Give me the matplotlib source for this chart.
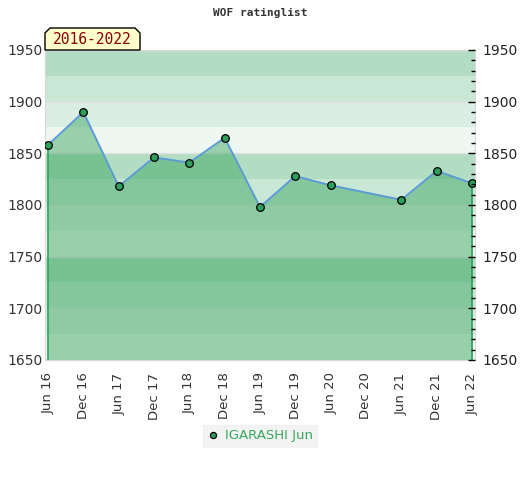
import numpy as np
import matplotlib
matplotlib.use("Agg")
import matplotlib.pyplot as plt
from matplotlib.patches import Polygon
from matplotlib.ticker import MultipleLocator

# half-year positions (Jun 16 = 0 ... Jun 22 = 12)
tick_labels = ["Jun 16", "Dec 16", "Jun 17", "Dec 17", "Jun 18", "Dec 18", "Jun 19",
               "Dec 19", "Jun 20", "Dec 20", "Jun 21", "Dec 21", "Jun 22"]
x_idx = [0, 1, 2, 3, 4, 5, 6, 7, 8, 10, 11, 12]
rating = [1858, 1890, 1818, 1846, 1841, 1865, 1798, 1828, 1819, 1805, 1833, 1821]
player = "IGARASHI Jun"
period = "2016-2022"

band_colors = ["#eef7f1", "#dbeee3", "#c9e7d5", "#b3ddc3"]  # cycle by 25 pts, from bottom
ymin, ymax = 1650, 1950

fig = plt.figure(figsize=(5.2, 4.8), dpi=100)
ax = fig.add_axes([45 / 520, 1 - 360 / 480, 430 / 520, 310 / 480])

# background bands
for i, lo in enumerate(range(ymin, ymax, 25)):
    ax.axhspan(lo, lo + 25, color=band_colors[i % 4], lw=0, zorder=0)
for y in range(ymin, ymax + 1, 50):
    ax.axhline(y, color="#e2e2e2", lw=1, zorder=0.5)

x = np.array(x_idx)
y = np.array(rating)
ax.fill_between(x, y, ymin, color=(49 / 255, 162 / 255, 88 / 255), alpha=0.45, lw=0, zorder=1)
ax.vlines([x[0], x[-1]], ymin, [y[0], y[-1]], color="#2ca05a", lw=1.2, zorder=2)
ax.plot(x, y, color="#5b9bd5", lw=1.4, zorder=3)
ax.plot(x, y, "o", ms=5.5, mfc="#2e9e5b", mec="black", mew=0.9, zorder=4, label=player)

ax.set_xlim(-0.085, 12.085)
ax.set_ylim(ymin, ymax)
ax.set_xticks(range(len(tick_labels)))
ax.set_xticklabels(tick_labels, rotation=90, fontsize=9.5, color="#333333")
ax.tick_params(axis="x", length=0, pad=9)
ax.set_yticks(range(ymin, ymax + 1, 50))
ax.tick_params(axis="y", length=0, labelsize=10, labelcolor="#333333", pad=2)

for s in ax.spines.values():
    s.set_color("#d8d8d8")

ax2 = ax.twinx()
ax2.set_ylim(ymin, ymax)
ax2.set_yticks(range(ymin, ymax + 1, 50))
ax2.yaxis.set_minor_locator(MultipleLocator(10))
ax2.tick_params(axis="y", which="major", direction="in", length=5, width=1,
                labelsize=10, labelcolor="#222222", pad=5)
ax2.tick_params(axis="y", which="minor", direction="in", length=3, width=1)
for s in ax2.spines.values():
    s.set_visible(False)

fig.text(0.5, 1 - 13 / 480, "WOF ratinglist", ha="center", va="center",
         family="DejaVu Sans Mono", fontweight="bold", fontsize=8, color="#333333")

# period label box with clipped corners
pts = [(45, 50), (45, 33), (50, 28), (135, 28), (140, 33), (140, 50)]
box = Polygon([(px / 520, 1 - py / 480) for px, py in pts], closed=True,
              transform=fig.transFigure, facecolor="#ffffcc", edgecolor="black", lw=1, zorder=5)
fig.patches.append(box)
fig.text(92.5 / 520, 1 - 40 / 480, period, ha="center", va="center",
         family="DejaVu Sans Mono", fontsize=10.5, color="#8b0000", zorder=6)

leg = fig.legend(loc="center", bbox_to_anchor=(0.5, 1 - 436 / 480), frameon=True,
                 fontsize=9.5, handletextpad=0.5, borderpad=0.35, handlelength=0.8,
                 borderaxespad=0, markerscale=0.8, fancybox=False)
leg.get_frame().set_facecolor("#f0f0f0")
leg.get_frame().set_edgecolor("#f0f0f0")
for t in leg.get_texts():
    t.set_color("#3aa85e")

fig.savefig("out.png", dpi=100)
